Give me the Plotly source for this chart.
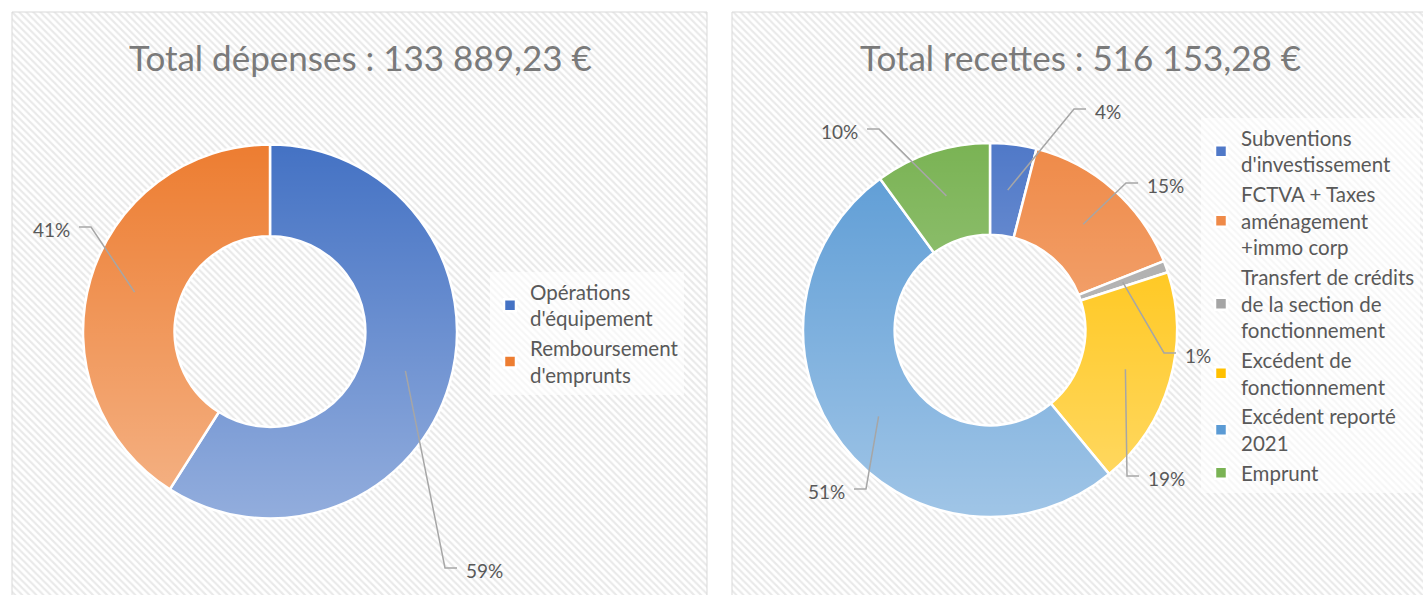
import base64
import math
import plotly.graph_objects as go

# ---------------- data ----------------
dep_title = "Total dépenses : 133 889,23 €"
dep_labels = ["Opérations<br>d'équipement", "Remboursement<br>d'emprunts"]
dep_values = [59, 41]

rec_title = "Total recettes : 516 153,28 €"
rec_labels = [
    "Subventions<br>d'investissement",
    "FCTVA + Taxes<br>aménagement<br>+immo corp",
    "Transfert de crédits<br>de la section de<br>fonctionnement",
    "Excédent de<br>fonctionnement",
    "Excédent reporté<br>2021",
    "Emprunt",
]
rec_values = [4, 15, 1, 19, 51, 10]

# ---------------- styles / layout ----------------
W, H = 1423, 595
dep_colors = ["#4472C4", "#ED7D31"]
rec_colors = ["#5079C8", "#EF8A48", "#A5A5A5", "#FFC000", "#5B9BD5", "#7AB354"]

FONT = "Lato, 'Open Sans', sans-serif"
TXT = "#595959"
LEADER = "#a6a6a6"

# donut geometry in pixels (centre x, centre y from top, outer radius)
dep_geo = (270, 331.5, 187)
rec_geo = (990, 330, 187)
HOLE = 0.51
R_LEAD = 141

# label placement (text x, text y, anchor side) per slice
dep_lab_pos = [(464, 570, "left"), (72, 229, "right")]
rec_lab_pos = [
    (1093, 111, "left"),
    (1145, 185, "left"),
    (1183, 355, "left"),
    (1146, 478, "left"),
    (847, 491, "right"),
    (860, 131, "right"),
]

panels = [(12, 707), (732, 1440)]


def domain(geo):
    cx, cy, r = geo
    return dict(x=[(cx - r) / W, (cx + r) / W],
                y=[(H - cy - r) / H, (H - cy + r) / H])


def mid_angles(values):
    tot = sum(values)
    out, cum = [], 0
    for v in values:
        out.append((cum + v / 2) / tot * 360)
        cum += v
    return out


fig = go.Figure()

# hatched panels (pixel-space helper axes)
for x0, x1 in panels:
    fig.add_trace(go.Scatter(
        x=[x0, x1, x1, x0, x0], y=[12, 12, 610, 610, 12],
        mode="lines", fill="toself",
        fillcolor="white",
        fillpattern=dict(shape="\\", fgcolor="#d4d4d4", bgcolor="white",
                         size=5, solidity=0.42),
        line=dict(color="#d9d9d9", width=1),
        hoverinfo="skip", showlegend=False,
    ))

fig.add_trace(go.Pie(
    labels=dep_labels, values=dep_values, sort=False, direction="clockwise",
    rotation=0, hole=HOLE, domain=domain(dep_geo),
    marker=dict(colors=dep_colors, line=dict(color="white", width=2.5)),
    textinfo="none", hoverinfo="label+percent", legend="legend",
))
fig.add_trace(go.Pie(
    labels=rec_labels, values=rec_values, sort=False, direction="clockwise",
    rotation=0, hole=HOLE, domain=domain(rec_geo),
    marker=dict(colors=rec_colors, line=dict(color="white", width=2.5)),
    textinfo="none", hoverinfo="label+percent", legend="legend2",
))

shapes, annotations, images = [], [], []


def add_labels(values, geo, positions):
    cx, cy, r = geo
    tot = sum(values)
    for v, ang, (tx, ty, side) in zip(values, mid_angles(values), positions):
        a = math.radians(ang)
        px, py = cx + R_LEAD * math.sin(a), cy - R_LEAD * math.cos(a)
        ly = ty - 2
        if side == "left":
            ex = tx - 7
            kx = ex - 12
        else:
            ex = tx + 7
            kx = ex + 12
        shapes.append(dict(
            type="path", xref="x", yref="y", layer="above",
            path=f"M {px:.1f},{py:.1f} L {kx:.1f},{ly:.1f} L {ex:.1f},{ly:.1f}",
            line=dict(color=LEADER, width=1.5),
        ))
        annotations.append(dict(
            x=tx, y=ty, xref="x", yref="y", showarrow=False,
            text=f"{round(v / tot * 100)}%", xanchor=side, yanchor="middle",
            font=dict(family=FONT, size=19, color=TXT),
        ))


def add_gradient(geo):
    cx, cy, r = geo
    d = 2 * r
    rin = r * HOLE
    svg = (
        f"<svg xmlns='http://www.w3.org/2000/svg' width='{d}' height='{d}' viewBox='0 0 {d} {d}'>"
        f"<defs><linearGradient id='g' gradientUnits='userSpaceOnUse' x1='0' y1='0' x2='0' y2='{d}'>"
        "<stop offset='0' stop-color='white' stop-opacity='0'/>"
        "<stop offset='1' stop-color='white' stop-opacity='0.42'/>"
        "</linearGradient></defs>"
        f"<circle cx='{r}' cy='{r}' r='{(r + rin) / 2}' fill='none' stroke='url(#g)' "
        f"stroke-width='{r - rin - 1}'/></svg>"
    )
    src = "data:image/svg+xml;base64," + base64.b64encode(svg.encode()).decode()
    dom = domain(geo)
    images.append(dict(
        source=src, xref="paper", yref="paper",
        x=dom["x"][0], y=dom["y"][1],
        sizex=dom["x"][1] - dom["x"][0], sizey=dom["y"][1] - dom["y"][0],
        xanchor="left", yanchor="top", sizing="stretch", layer="above",
    ))


add_labels(dep_values, dep_geo, dep_lab_pos)
add_labels(rec_values, rec_geo, rec_lab_pos)
add_gradient(dep_geo)
add_gradient(rec_geo)

for title, x in [(dep_title, 360), (rec_title, 1080)]:
    annotations.append(dict(
        x=x, y=57, xref="x", yref="y", showarrow=False, text=title,
        xanchor="center", yanchor="middle",
        font=dict(family=FONT, size=35, color="#7a7a7a"),
    ))

legend_style = dict(
    bgcolor="rgba(255,255,255,0.6)", borderwidth=0,
    font=dict(family=FONT, size=20.5, color=TXT),
    xanchor="left", yanchor="top", orientation="v",
)

fig.update_layout(
    width=W, height=H,
    margin=dict(l=0, r=0, t=0, b=0),
    paper_bgcolor="white", plot_bgcolor="rgba(0,0,0,0)",
    xaxis=dict(range=[0, W], visible=False, fixedrange=True, domain=[0, 1]),
    yaxis=dict(range=[H, 0], visible=False, fixedrange=True, domain=[0, 1]),
    legend=dict(x=490 / W, y=1 - 272 / H, **legend_style),
    legend2=dict(x=1201 / W, y=1 - 118 / H, **legend_style),
    shapes=shapes, annotations=annotations, images=images,
)

fig.write_html("out.html", config={"displayModeBar": False},
               post_script="document.body.style.margin='0';")
